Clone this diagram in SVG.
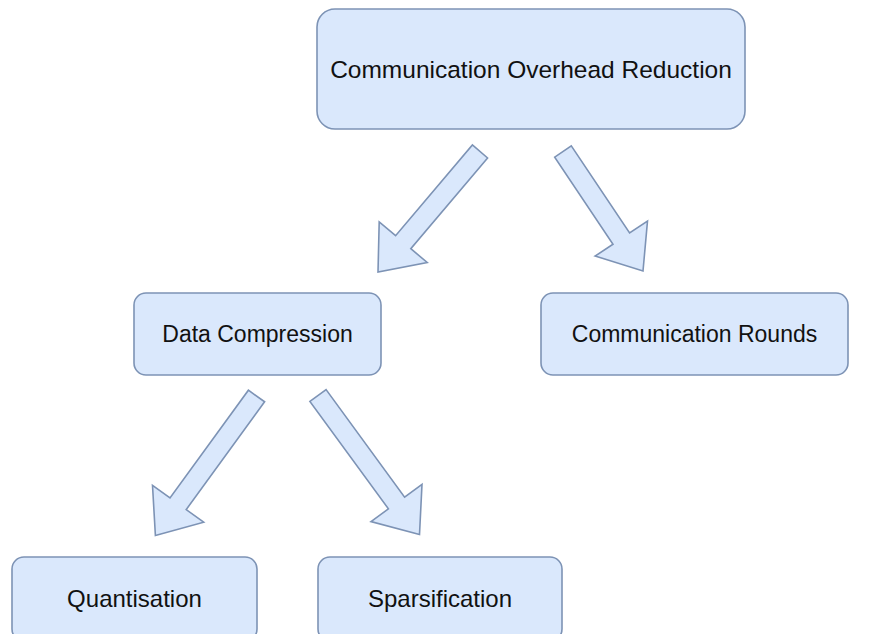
<svg xmlns="http://www.w3.org/2000/svg" width="878" height="634" viewBox="0 0 878 634">
<style>
.box{fill:#dae8fc;stroke:#7d93b5;stroke-width:1.6}
.arr{fill:#dae8fc;stroke:#7d93b5;stroke-width:1.6;stroke-linejoin:miter}
.lbl{font-family:"Liberation Sans",Arial,sans-serif;fill:#111;text-anchor:middle}
</style>
<rect width="878" height="634" fill="#ffffff"/>
<g id="connectors">
<polygon class="arr" points="487.6,158 410.8,248.7 427.2,262.5 378,272 379.2,221.9 395.6,235.7 472.4,145"/>
<polygon class="arr" points="571.3,145.9 629.6,233 647.5,221.1 643,271 595.1,256.1 613,244.2 554.7,157.1"/>
<polygon class="arr" points="264.6,401.8 186.2,509.6 203.7,522.2 155.4,535.5 152.5,485.4 170,498 248.4,390.2"/>
<polygon class="arr" points="326.1,389.6 404.6,497.1 422,484.4 419.5,534.5 371,521.6 388.4,508.9 309.9,401.4"/>
</g>
<g id="node-overhead">
<rect class="box" x="317" y="9" width="428" height="120" rx="18"/>
<text class="lbl" x="531" y="78" font-size="24.5">Communication Overhead Reduction</text>
</g>
<g id="node-compression">
<rect class="box" x="134" y="293" width="247" height="82" rx="12"/>
<text class="lbl" x="257.5" y="342" font-size="23">Data Compression</text>
</g>
<g id="node-rounds">
<rect class="box" x="541" y="293" width="307" height="82" rx="12"/>
<text class="lbl" x="694.5" y="342" font-size="23">Communication Rounds</text>
</g>
<g id="node-quantisation">
<rect class="box" x="12" y="557" width="245" height="84" rx="12"/>
<text class="lbl" x="134.5" y="607" font-size="24">Quantisation</text>
</g>
<g id="node-sparsification">
<rect class="box" x="318" y="557" width="244" height="84" rx="12"/>
<text class="lbl" x="440" y="607" font-size="24">Sparsification</text>
</g>
</svg>
